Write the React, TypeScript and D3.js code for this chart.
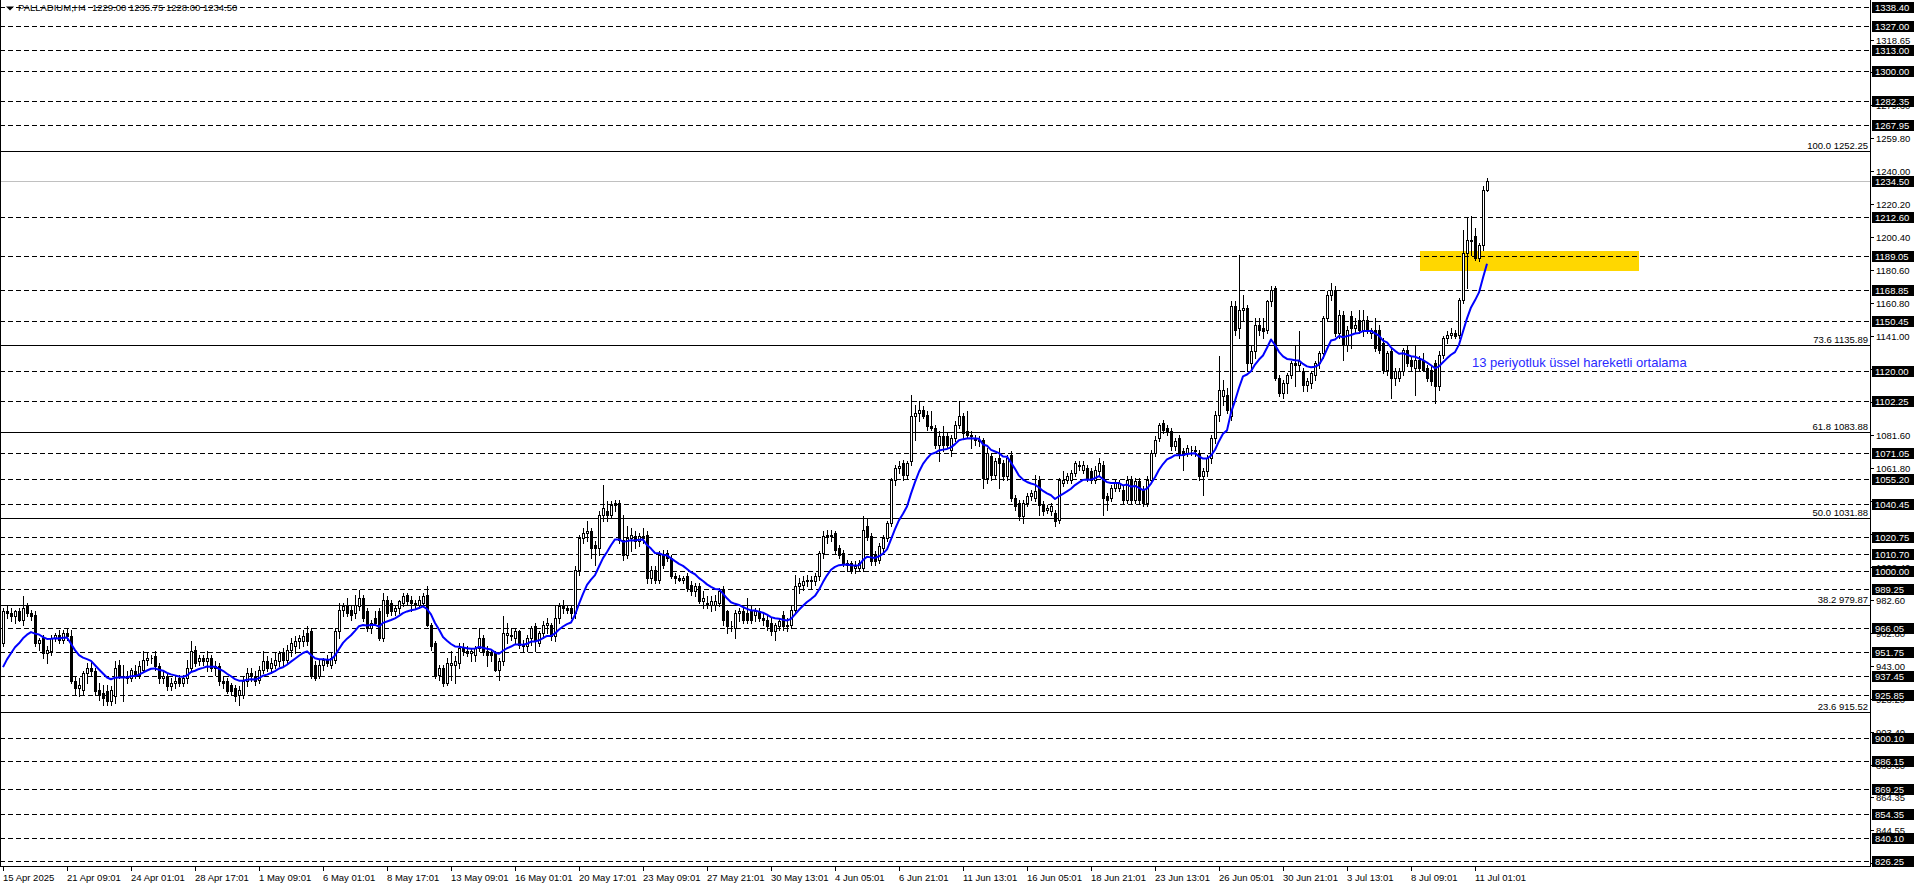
import React, { useRef, useEffect } from 'react';
import * as d3 from 'd3';

// open, high, low, close
type Bar = [number, number, number, number];

const symbolTitle = 'PALLADIUM,H4';
const titleQuote = '1229.00 1235.75 1228.00 1234.50';

// 15 Apr .. 1 May
const ohlcPart1: Bar[] = [
    [957, 978, 955, 976], [976, 980, 972, 975], [975, 978, 970, 973], [973, 977, 969, 976], [976, 978, 970, 971],
    [971, 985, 968, 978], [979, 981, 973, 975], [975, 977, 971, 973], [974, 976, 955, 957], [957, 960, 953, 959],
    [960, 962, 948, 951], [951, 955, 945, 953], [952, 962, 950, 960], [960, 963, 958, 962], [962, 965, 957, 959],
    [959, 965, 957, 963], [963, 966, 959, 961], [961, 965, 933, 934], [934, 937, 926, 930], [930, 936, 925, 932],
    [929, 940, 926, 939], [939, 945, 933, 942], [942, 946, 937, 940], [940, 942, 926, 928], [929, 933, 923, 926],
    [927, 932, 920, 924], [928, 932, 920, 922], [922, 931, 920, 929], [925, 946, 921, 942], [944, 947, 936, 937],
    [937, 944, 922, 937], [937, 940, 933, 936], [936, 942, 934, 941], [940, 944, 936, 938], [938, 946, 936, 943],
    [941, 952, 940, 947], [947, 951, 944, 948], [948, 950, 945, 948], [949, 952, 941, 943], [943, 945, 933, 936],
    [936, 940, 933, 937], [937, 939, 929, 931], [931, 936, 929, 933], [933, 937, 930, 934], [936, 938, 931, 933],
    [933, 938, 931, 936], [936, 947, 933, 942], [942, 958, 940, 952], [953, 955, 943, 945], [946, 950, 944, 948],
    [948, 950, 944, 946], [946, 952, 940, 948], [948, 950, 940, 942], [942, 946, 938, 943], [943, 945, 932, 934],
    [934, 937, 930, 933], [934, 936, 927, 928], [932, 933, 926, 928], [930, 932, 922, 925], [926, 931, 920, 929],
    [926, 937, 924, 934], [934, 942, 931, 939], [939, 942, 934, 937], [937, 940, 932, 934], [935, 943, 933, 941],
    [941, 952, 939, 946], [946, 949, 940, 942], [942, 948, 939, 945], [944, 951, 942, 947], [946, 952, 943, 951],
    [951, 954, 943, 947], [947, 956, 945, 953], [953, 960, 949, 957], [955, 961, 951, 958], [958, 962, 954, 960],
    [958, 965, 955, 961], [963, 967, 956, 958], [964, 966, 936, 937], [944, 946, 935, 936], [937, 947, 936, 944],
    [944, 948, 941, 947], [947, 950, 943, 945], [944, 951, 942, 948], [947, 966, 945, 964], [964, 981, 960, 977],
    [977, 981, 973, 979], [980, 984, 973, 975], [977, 979, 971, 974], [975, 986, 972, 980], [979, 989, 977, 984],
    [984, 986, 970, 972], [976, 978, 964, 966], [966, 971, 963, 969], [972, 976, 968, 969], [976, 978, 959, 960],
    [960, 987, 958, 983], [983, 985, 973, 975], [981, 983, 974, 976], [976, 980, 974, 978], [978, 983, 975, 982],
];

// May
const ohlcPart2: Bar[] = [
    [981, 987, 979, 985], [986, 987, 980, 982], [983, 985, 976, 981], [981, 983, 978, 980], [980, 985, 978, 983],
    [981, 987, 979, 985], [986, 991, 967, 968], [968, 969, 953, 955], [957, 958, 936, 938], [938, 944, 935, 942],
    [942, 944, 931, 933], [933, 948, 932, 945], [944, 952, 935, 945], [944, 949, 933, 946], [945, 957, 942, 954],
    [954, 957, 950, 952], [952, 955, 949, 951], [951, 954, 946, 952], [950, 955, 946, 954], [954, 966, 952, 960],
    [960, 962, 950, 952], [952, 955, 943, 950], [951, 953, 946, 950], [951, 952, 940, 941], [941, 948, 935, 946],
    [946, 973, 944, 963], [962, 969, 957, 963], [962, 966, 959, 961], [960, 966, 957, 964], [964, 965, 954, 956],
    [956, 959, 952, 955], [955, 962, 952, 960], [960, 967, 956, 966], [967, 969, 952, 958], [957, 964, 955, 963],
    [963, 970, 960, 968], [968, 972, 963, 969], [968, 969, 959, 961], [961, 979, 958, 972], [972, 981, 969, 979],
    [979, 983, 975, 978], [978, 980, 975, 977], [978, 980, 972, 975], [975, 1003, 972, 1001], [1001, 1022, 998, 1020],
    [1020, 1026, 1017, 1023], [1023, 1030, 1018, 1024], [1024, 1026, 1008, 1014], [1016, 1018, 1004, 1014], [1014, 1036, 1010, 1034],
    [1034, 1052, 1030, 1038], [1036, 1042, 1030, 1034], [1034, 1042, 1032, 1040], [1041, 1043, 1036, 1040], [1041, 1043, 1017, 1019],
    [1019, 1034, 1007, 1010], [1010, 1027, 1008, 1020], [1020, 1026, 1012, 1022], [1021, 1024, 1014, 1018], [1018, 1023, 1015, 1021],
    [1021, 1026, 1017, 1020], [1022, 1024, 993, 996], [996, 1003, 993, 1001], [1001, 1003, 993, 995], [995, 1012, 993, 1010],
    [1010, 1013, 1002, 1004], [1011, 1013, 1006, 1008], [1008, 1010, 996, 997], [997, 999, 993, 996], [996, 998, 994, 995],
    [995, 997, 993, 996], [997, 999, 988, 990], [992, 994, 986, 988], [988, 993, 985, 991], [991, 993, 981, 982],
    [982, 988, 978, 984], [981, 985, 978, 980], [980, 985, 976, 982], [980, 986, 977, 982], [981, 990, 979, 988],
    [989, 991, 968, 971], [976, 977, 963, 967], [967, 970, 964, 967], [966, 977, 960, 975], [975, 978, 970, 976],
    [976, 978, 969, 971], [975, 984, 969, 971], [976, 980, 969, 971], [974, 978, 970, 976], [976, 978, 970, 972],
    [972, 975, 968, 971], [971, 973, 965, 967], [969, 972, 962, 964], [964, 969, 959, 968], [967, 972, 965, 970],
    [974, 976, 965, 967], [967, 972, 964, 968], [968, 979, 966, 977], [977, 998, 975, 991], [991, 996, 987, 993],
];

// June
const ohlcPart3: Bar[] = [
    [992, 997, 989, 994], [994, 998, 991, 995], [995, 997, 990, 994], [994, 999, 992, 997], [997, 1012, 995, 1011],
    [1011, 1024, 1008, 1021], [1021, 1025, 1017, 1022], [1022, 1025, 1018, 1021], [1023, 1024, 1011, 1013], [1014, 1016, 1008, 1010],
    [1011, 1013, 1003, 1005], [1004, 1007, 1000, 1005], [1005, 1006, 999, 1001], [1002, 1006, 999, 1003], [1002, 1007, 1000, 1005],
    [1002, 1033, 1000, 1025], [1027, 1032, 1019, 1021], [1021, 1023, 1004, 1006], [1010, 1012, 1004, 1006], [1007, 1017, 1005, 1015],
    [1014, 1022, 1012, 1020], [1020, 1030, 1018, 1029], [1029, 1056, 1027, 1055], [1055, 1064, 1052, 1062], [1062, 1066, 1059, 1063],
    [1065, 1067, 1055, 1058], [1058, 1066, 1056, 1065], [1066, 1106, 1064, 1093], [1093, 1100, 1079, 1095], [1095, 1102, 1090, 1097],
    [1097, 1099, 1092, 1093], [1094, 1096, 1085, 1087], [1087, 1096, 1085, 1086], [1086, 1088, 1074, 1076], [1076, 1084, 1066, 1081],
    [1081, 1087, 1072, 1076], [1081, 1083, 1074, 1076], [1073, 1082, 1069, 1080], [1080, 1090, 1078, 1088], [1088, 1102, 1086, 1093],
    [1093, 1095, 1080, 1083], [1084, 1096, 1080, 1082], [1082, 1084, 1074, 1081], [1080, 1082, 1076, 1079], [1079, 1081, 1075, 1078],
    [1079, 1080, 1050, 1056], [1056, 1074, 1053, 1071], [1069, 1071, 1055, 1058], [1058, 1068, 1056, 1066], [1068, 1074, 1050, 1065],
    [1065, 1067, 1055, 1057], [1057, 1070, 1055, 1068], [1070, 1072, 1042, 1044], [1044, 1046, 1037, 1039], [1041, 1043, 1031, 1033],
    [1033, 1043, 1029, 1041], [1041, 1047, 1039, 1045], [1045, 1049, 1043, 1047], [1044, 1058, 1042, 1048], [1055, 1057, 1034, 1040],
    [1040, 1042, 1034, 1036], [1037, 1040, 1035, 1038], [1036, 1041, 1034, 1039], [1035, 1037, 1027, 1030], [1031, 1056, 1029, 1055],
    [1053, 1060, 1051, 1055], [1055, 1059, 1053, 1057], [1055, 1061, 1053, 1059], [1059, 1066, 1057, 1065], [1064, 1066, 1061, 1063],
    [1061, 1066, 1059, 1064], [1062, 1064, 1054, 1056], [1060, 1062, 1053, 1055], [1055, 1063, 1053, 1061], [1060, 1068, 1058, 1065],
    [1064, 1066, 1034, 1044], [1045, 1047, 1037, 1043], [1044, 1052, 1042, 1050], [1050, 1055, 1048, 1053], [1050, 1055, 1048, 1053],
    [1049, 1051, 1041, 1043], [1043, 1057, 1041, 1055], [1055, 1057, 1041, 1043], [1043, 1056, 1041, 1054], [1054, 1056, 1041, 1043],
    [1049, 1051, 1039, 1041], [1041, 1057, 1039, 1055], [1055, 1073, 1053, 1071], [1071, 1081, 1069, 1079], [1080, 1089, 1078, 1088],
    [1089, 1091, 1083, 1085], [1086, 1088, 1082, 1084], [1084, 1086, 1073, 1075], [1075, 1080, 1073, 1078], [1080, 1082, 1068, 1070],
    [1072, 1074, 1061, 1070], [1071, 1076, 1069, 1074], [1073, 1075, 1070, 1073], [1073, 1075, 1069, 1072], [1071, 1073, 1055, 1057],
];

// late June .. 11 Jul
const ohlcPart4: Bar[] = [
    [1057, 1062, 1046, 1060], [1060, 1070, 1057, 1068], [1068, 1082, 1065, 1080], [1080, 1096, 1077, 1094], [1094, 1129, 1090, 1109],
    [1105, 1115, 1100, 1109], [1106, 1110, 1095, 1097], [1093, 1162, 1091, 1159], [1159, 1162, 1142, 1145], [1146, 1190, 1140, 1157],
    [1157, 1166, 1150, 1158], [1158, 1160, 1120, 1125], [1125, 1135, 1121, 1132], [1132, 1152, 1128, 1148], [1148, 1152, 1142, 1145],
    [1146, 1152, 1140, 1144], [1145, 1163, 1143, 1162], [1162, 1171, 1159, 1169], [1170, 1171, 1115, 1116], [1116, 1118, 1105, 1107],
    [1107, 1115, 1104, 1113], [1113, 1119, 1107, 1118], [1118, 1126, 1116, 1125], [1125, 1135, 1111, 1124], [1124, 1144, 1120, 1126],
    [1120, 1122, 1108, 1112], [1112, 1116, 1108, 1114], [1113, 1120, 1110, 1119], [1118, 1126, 1115, 1125], [1125, 1132, 1122, 1131],
    [1131, 1153, 1128, 1152], [1152, 1168, 1150, 1166], [1166, 1173, 1163, 1169], [1169, 1171, 1141, 1143], [1143, 1157, 1140, 1154],
    [1154, 1156, 1127, 1136], [1136, 1147, 1132, 1145], [1153, 1156, 1134, 1146], [1146, 1152, 1143, 1148], [1151, 1157, 1143, 1145],
    [1145, 1157, 1141, 1151], [1151, 1153, 1143, 1144], [1143, 1146, 1140, 1145], [1145, 1152, 1132, 1134], [1145, 1148, 1131, 1133],
    [1137, 1140, 1119, 1121], [1121, 1132, 1118, 1131], [1132, 1134, 1104, 1116], [1116, 1122, 1112, 1120], [1116, 1122, 1114, 1120],
    [1120, 1134, 1118, 1133], [1133, 1136, 1123, 1125], [1127, 1129, 1121, 1123], [1122, 1136, 1106, 1127], [1127, 1129, 1121, 1122],
    [1127, 1131, 1120, 1121], [1122, 1124, 1114, 1116], [1121, 1123, 1112, 1114], [1125, 1127, 1101, 1111], [1111, 1132, 1109, 1130],
    [1130, 1141, 1128, 1140], [1140, 1144, 1137, 1142], [1142, 1146, 1140, 1143], [1143, 1145, 1140, 1141], [1142, 1164, 1140, 1163],
    [1163, 1205, 1161, 1191], [1191, 1212, 1170, 1199], [1199, 1213, 1190, 1198], [1201, 1206, 1187, 1188], [1188, 1197, 1186, 1196],
    [1196, 1231, 1193, 1229], [1229, 1235.75, 1228, 1234.5],
];

const emaPeriod = 13;
const emaSeed = 937; // EMA value carried in from the bars left of the screen

// horizontal lines (dashed) with their axis boxes
const levelLines = [
    1338.40, 1327.00, 1313.00, 1300.00, 1282.35, 1267.95, 1212.60, 1189.05, 1168.85, 1150.45,
    1120.00, 1102.25, 1071.05, 1055.20, 1040.45, 1020.75, 1010.70, 1000.00, 989.25, 966.05,
    951.75, 937.45, 925.85, 900.10, 886.15, 869.25, 854.35, 840.10, 826.25,
];
const bidPrice = 1234.50;

// fibonacci retracement
const fibRatios = ['100.0', '73.6', '61.8', '50.0', '38.2', '23.6'];
const fibPrices = [1252.25, 1135.89, 1083.88, 1031.88, 979.87, 915.52];

// price scale labels
const axisTicks = [
    1318.65, 1299.40, 1279.60, 1259.80, 1240.00, 1220.20, 1200.40, 1180.60, 1160.80, 1141.00,
    1121.20, 1101.40, 1081.60, 1061.80, 1042.00, 1022.20, 1002.40, 982.60, 962.80, 943.00,
    923.20, 903.40, 883.60, 864.35, 844.55, 824.75,
];

// time scale labels, one every 16 bars
const timeLabels = [
    '15 Apr 2025', '21 Apr 09:01', '24 Apr 01:01', '28 Apr 17:01', '1 May 09:01', '6 May 01:01',
    '8 May 17:01', '13 May 09:01', '16 May 01:01', '20 May 17:01', '23 May 09:01', '27 May 21:01',
    '30 May 13:01', '4 Jun 05:01', '6 Jun 21:01', '11 Jun 13:01', '16 Jun 05:01', '18 Jun 21:01',
    '23 Jun 13:01', '26 Jun 05:01', '30 Jun 21:01', '3 Jul 13:01', '8 Jul 09:01', '11 Jul 01:01',
];
const labelEvery = 16;

// yellow zone (bar index range, price range)
const zoneBars = [354.25, 409];
const zonePrices = [1180.4, 1192.2];

const noteText = '13 periyotluk üssel hareketli ortalama';
const noteBar = 367.25;
const notePrice = 1122.9;

const font = '"Liberation Sans", Arial, sans-serif';

const App: React.FC = () => {
    const svgRef = useRef<SVGSVGElement>(null);

    useEffect(() => {
        const candles: Bar[] = [...ohlcPart1, ...ohlcPart2, ...ohlcPart3, ...ohlcPart4];
        const width = 1916;
        const height = 888;
        const plotRight = 1870;
        const plotBottom = 866;

        const x = d3.scaleLinear().domain([0, 1]).range([3, 7]); // 4px per bar
        const y = d3.scaleLinear().domain([823.25, 1342.8]).range([plotBottom, 0]);
        const fmt = d3.format('.2f');

        const svg = d3.select(svgRef.current);
        svg.selectAll('*').remove();
        svg.attr('width', width).attr('height', height).attr('viewBox', `0 0 ${width} ${height}`);

        svg.append('rect').attr('width', width).attr('height', height).attr('fill', '#fff');

        // zone
        svg.append('rect')
            .attr('x', x(zoneBars[0]))
            .attr('y', Math.round(y(zonePrices[1])))
            .attr('width', x(zoneBars[1]) - x(zoneBars[0]))
            .attr('height', Math.round(y(zonePrices[0])) - Math.round(y(zonePrices[1])))
            .attr('fill', '#ffd700');

        const grid = svg.append('g').attr('shape-rendering', 'crispEdges');

        grid.selectAll('line.lvl')
            .data(levelLines)
            .join('line')
            .attr('class', 'lvl')
            .attr('x1', 0).attr('x2', plotRight)
            .attr('y1', d => Math.round(y(d)) + 0.5)
            .attr('y2', d => Math.round(y(d)) + 0.5)
            .attr('stroke', '#000')
            .attr('stroke-dasharray', '5,3');

        grid.selectAll('line.fib')
            .data(fibPrices)
            .join('line')
            .attr('class', 'fib')
            .attr('x1', 0).attr('x2', plotRight)
            .attr('y1', d => Math.round(y(d)) + 0.5)
            .attr('y2', d => Math.round(y(d)) + 0.5)
            .attr('stroke', '#000');

        grid.append('line')
            .attr('x1', 0).attr('x2', plotRight)
            .attr('y1', Math.round(y(bidPrice)) + 0.5)
            .attr('y2', Math.round(y(bidPrice)) + 0.5)
            .attr('stroke', '#c0c0c0');

        svg.selectAll('text.fib')
            .data(fibPrices)
            .join('text')
            .attr('class', 'fib')
            .attr('x', plotRight - 2)
            .attr('y', d => Math.round(y(d)) - 2)
            .attr('text-anchor', 'end')
            .attr('font-family', font)
            .attr('font-size', 9.5)
            .attr('fill', '#000')
            .text((d, i) => `${fibRatios[i]} ${fmt(d)}`);

        // candles
        const cg = svg.append('g').attr('shape-rendering', 'crispEdges');
        candles.forEach(([o, h, l, c], i) => {
            const cx = Math.round(x(i));
            cg.append('line')
                .attr('x1', cx + 0.5).attr('x2', cx + 0.5)
                .attr('y1', Math.round(y(h))).attr('y2', Math.round(y(l)) + 1)
                .attr('stroke', '#000');
            const top = Math.round(y(Math.max(o, c)));
            const bot = Math.round(y(Math.min(o, c)));
            cg.append('path')
                .attr('d', `M${cx - 0.5},${top + 0.5}h2v${bot - top}h-2Z`)
                .attr('fill', c >= o ? '#fff' : '#000')
                .attr('stroke', '#000');
        });

        // EMA 13
        const k = 2 / (emaPeriod + 1);
        let prev = emaSeed;
        const ema = candles.map(d => (prev = prev + (d[3] - prev) * k));
        svg.append('path')
            .datum(ema)
            .attr('fill', 'none')
            .attr('stroke', '#0000ff')
            .attr('stroke-width', 2)
            .attr('stroke-linejoin', 'round')
            .attr('d', d3.line<number>().x((_, i) => x(i)).y(d => y(d)));

        svg.append('text')
            .attr('x', x(noteBar))
            .attr('y', y(notePrice))
            .attr('font-family', font)
            .attr('font-size', 13)
            .attr('fill', '#2a2aff')
            .text(noteText);

        // frame
        const frame = svg.append('g').attr('shape-rendering', 'crispEdges').attr('stroke', '#000');
        frame.append('line').attr('x1', plotRight + 0.5).attr('x2', plotRight + 0.5).attr('y1', 0).attr('y2', plotBottom + 1);
        frame.append('line').attr('x1', 0).attr('x2', plotRight + 1).attr('y1', plotBottom + 0.5).attr('y2', plotBottom + 0.5);
        frame.append('line').attr('x1', 0.5).attr('x2', 0.5).attr('y1', 0).attr('y2', plotBottom);

        // price scale
        const ax = svg.append('g').attr('font-family', font).attr('font-size', 9.5);
        axisTicks.forEach(t => {
            const yy = Math.round(y(t));
            ax.append('line')
                .attr('x1', plotRight).attr('x2', plotRight + 4)
                .attr('y1', yy + 0.5).attr('y2', yy + 0.5)
                .attr('stroke', '#000').attr('shape-rendering', 'crispEdges');
            ax.append('text').attr('x', plotRight + 6).attr('y', yy + 4).attr('fill', '#000').text(fmt(t));
        });
        [...levelLines, bidPrice].forEach(p => {
            const yy = Math.round(y(p));
            ax.append('rect')
                .attr('x', plotRight + 2).attr('y', yy - 5)
                .attr('width', 42).attr('height', 11)
                .attr('fill', '#000');
            ax.append('text').attr('x', plotRight + 5).attr('y', yy + 4).attr('fill', '#fff').text(fmt(p));
        });

        // time scale
        const tx = svg.append('g').attr('font-family', font).attr('font-size', 9.5);
        timeLabels.forEach((lab, j) => {
            const cx = Math.round(x(j * labelEvery));
            tx.append('line')
                .attr('x1', cx + 0.5).attr('x2', cx + 0.5)
                .attr('y1', plotBottom).attr('y2', plotBottom + 5)
                .attr('stroke', '#000').attr('shape-rendering', 'crispEdges');
            tx.append('text').attr('x', cx).attr('y', 881).attr('fill', '#000').text(lab);
        });

        // title
        svg.append('path').attr('d', 'M6,6.5H14L10,10.5Z').attr('fill', '#000');
        svg.append('text').attr('x', 18).attr('y', 11).attr('font-family', font).attr('font-size', 9.5).text(symbolTitle);
        svg.append('text').attr('x', 92).attr('y', 11).attr('font-family', font).attr('font-size', 9.5).text(titleQuote);
    }, []);

    return (
        <div style={{ position: 'absolute', left: 0, top: 0 }}>
            <svg ref={svgRef} style={{ display: 'block' }}></svg>
        </div>
    );
};

export default App;
